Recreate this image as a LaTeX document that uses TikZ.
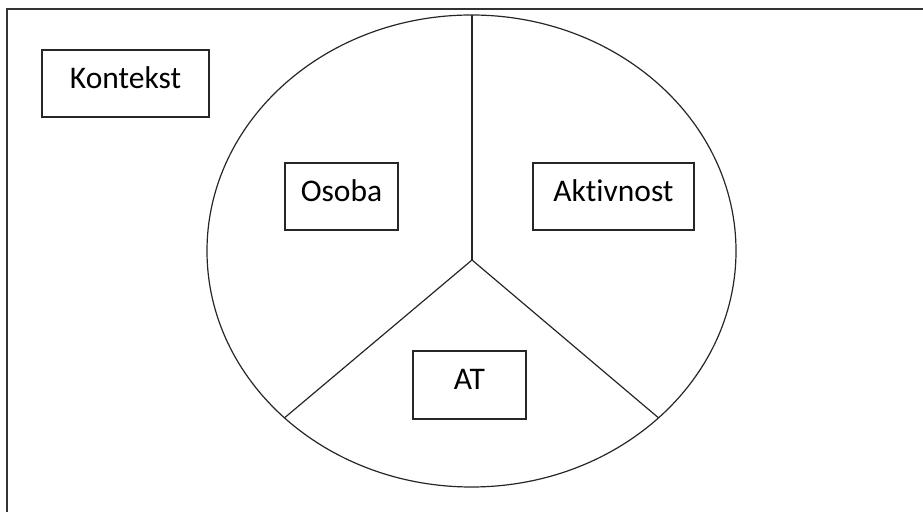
\documentclass[tikz,border=0pt]{standalone}
\usepackage{fontspec}
\setmainfont[Ligatures=NoCommon]{Carlito}
\begin{document}
\begin{tikzpicture}[x=1pt,y=1pt,
  frame/.style={line width=1.6pt, draw=black!80},
  divider/.style={line width=1.2pt, draw=black!85},
  labelbox/.style={draw=black!85, line width=1.3pt, rectangle, inner sep=0pt,
    minimum height=67pt, text height=20pt, text depth=10.5pt,
    font=\fontsize{31.5}{36}\selectfont}
]
\useasboundingbox (0,0) rectangle (923,511);
\clip (0,0) rectangle (923,511);

% outer frame, running past the right and bottom edges
\draw[frame] (7,-40) rectangle (960,502);

% the circle split into three sectors
\coordinate (ctr) at (471.5,260);
\coordinate (hub) at (472,251);
\draw[divider] (ctr) ellipse [x radius=264.5, y radius=236];
\path (ctr) ++(90:264.5 and 236) coordinate (top);
\path (ctr) ++(225:264.5 and 236) coordinate (lft);
\path (ctr) ++(-45:264.5 and 236) coordinate (rgt);
\draw[divider] (hub) -- (hub |- top);
\draw[divider] (hub) -- (lft);
\draw[divider] (hub) -- (rgt);

% labels
\node[labelbox, minimum width=167pt] (kontekst) at (125.5,427.5) {Kontekst};
\node[labelbox, minimum width=113pt] (osoba) at (341.5,314.5) {Osoba};
\node[labelbox, minimum width=161pt] (aktivnost) at (613.5,314.5) {Aktivnost};
\node[labelbox, minimum width=113pt, minimum height=68pt] (at) at (469.5,126) {AT};
\end{tikzpicture}
\end{document}
